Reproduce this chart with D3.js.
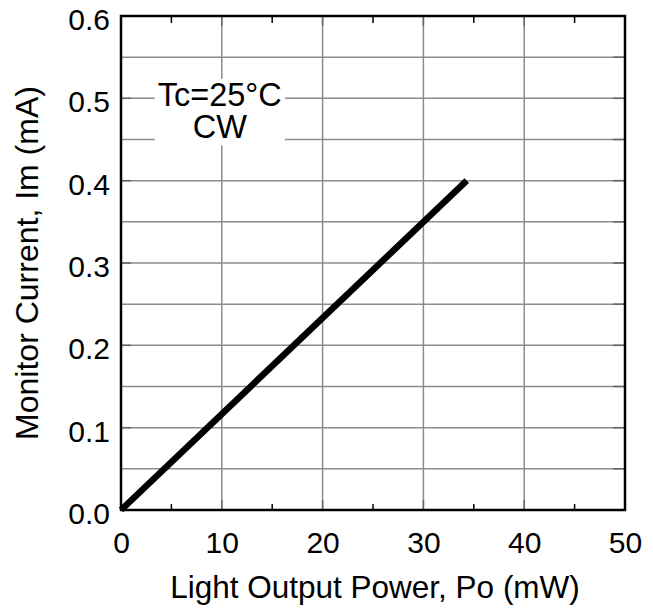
<!DOCTYPE html>
<html>
<head>
<meta charset="utf-8">
<script src="https://cdn.jsdelivr.net/npm/d3@7"></script>
<style>
  html, body { margin: 0; padding: 0; background: #fff; }
  svg { display: block; font-family: Arial, "Liberation Sans", Helvetica, sans-serif; }
</style>
</head>
<body>
<svg id="chart" width="653" height="609"></svg>
<script>
// Monitor current vs. light output power (Tc = 25 °C, CW)
const powerMW = [0, 34.3];
const monitorMA = [0, 0.4];

const xTicks = [0, 10, 20, 30, 40, 50];
const xMinorTicks = [5, 15, 25, 35, 45];
const yTicks = [0, 0.1, 0.2, 0.3, 0.4, 0.5, 0.6];
const yGrid = [0.05, 0.1, 0.15, 0.2, 0.25, 0.3, 0.35, 0.4, 0.45, 0.5, 0.55];
const xTitle = "Light Output Power, Po (mW)";
const yTitle = "Monitor Current, Im (mA)";
const noteLines = ["Tc=25°C", "CW"];

const W = 653, H = 609;
const m = { left: 121, top: 16, right: 28, bottom: 99 };
const pw = W - m.left - m.right, ph = H - m.top - m.bottom;

const svg = d3.select("#chart");
const g = svg.append("g").attr("transform", `translate(${m.left},${m.top})`);

const x = d3.scaleLinear().domain([0, 50]).range([0, pw]);
const y = d3.scaleLinear().domain([0, 0.6]).range([ph, 0]);

const gridColor = "#8c8c8c";
const tickColor = "#666";

// grid
g.append("g").selectAll("line.vg").data(xTicks.slice(1, -1)).join("line")
  .attr("x1", d => x(d)).attr("x2", d => x(d))
  .attr("y1", 0).attr("y2", ph)
  .attr("stroke", gridColor).attr("stroke-width", 1.5);
g.append("g").selectAll("line.hg").data(yGrid).join("line")
  .attr("x1", 0).attr("x2", pw)
  .attr("y1", d => y(d)).attr("y2", d => y(d))
  .attr("stroke", gridColor).attr("stroke-width", 1.5);

// inward ticks
const tk = g.append("g").attr("stroke", tickColor).attr("stroke-width", 1.5);
xTicks.slice(1, -1).forEach(d => {
  tk.append("line").attr("x1", x(d)).attr("x2", x(d)).attr("y1", ph).attr("y2", ph - 10);
  tk.append("line").attr("x1", x(d)).attr("x2", x(d)).attr("y1", 0).attr("y2", 10);
});
xMinorTicks.forEach(d => {
  tk.append("line").attr("x1", x(d)).attr("x2", x(d)).attr("y1", ph).attr("y2", ph - 6)
    .attr("stroke", "#000");
  tk.append("line").attr("x1", x(d)).attr("x2", x(d)).attr("y1", 0).attr("y2", 7)
    .attr("stroke", "#000");
});
yTicks.slice(1, -1).forEach(d => {
  tk.append("line").attr("x1", 0).attr("x2", 10).attr("y1", y(d)).attr("y2", y(d));
});
yGrid.forEach(d => {
  tk.append("line").attr("x1", pw - 12).attr("x2", pw).attr("y1", y(d)).attr("y2", y(d));
});

// annotation with white backing
const noteX = x(10) - 2;
const note = g.append("g");
const noteBg = note.append("rect").attr("fill", "#fff");
const noteText = note.append("text")
  .attr("text-anchor", "middle")
  .attr("font-size", 32.5)
  .attr("fill", "#000");
noteText.selectAll("tspan").data(noteLines).join("tspan")
  .attr("x", noteX)
  .attr("y", (d, i) => y(0.5) + 8 + i * 32)
  .text(d => d);
const bb = noteText.node().getBBox();
noteBg.attr("x", bb.x - 3).attr("y", bb.y + 1.5).attr("width", bb.width + 6).attr("height", bb.height - 1.5);

// data line
const line = d3.line().x(d => x(d[0])).y(d => y(d[1]));
g.append("path")
  .datum(powerMW.map((p, i) => [p, monitorMA[i]]))
  .attr("d", line)
  .attr("fill", "none")
  .attr("stroke", "#000")
  .attr("stroke-width", 6.5)
  .attr("stroke-linecap", "butt");

// frame
g.append("rect").attr("x", 0).attr("y", 0).attr("width", pw).attr("height", ph)
  .attr("fill", "none").attr("stroke", "#000").attr("stroke-width", 2.5);

// tick labels via axes
const xAxis = d3.axisBottom(x).tickValues(xTicks).tickSize(0).tickPadding(22)
  .tickFormat(d3.format("d"));
const xa = g.append("g").attr("transform", `translate(0,${ph})`).call(xAxis);
xa.select(".domain").remove();
xa.selectAll("text").attr("font-size", 30).attr("font-family", null).attr("fill", "#000").attr("dy", "0.71em");

const yAxis = d3.axisLeft(y).tickValues(yTicks).tickSize(0).tickPadding(11)
  .tickFormat(d3.format(".1f"));
const ya = g.append("g").call(yAxis);
ya.select(".domain").remove();
ya.selectAll("text").attr("font-size", 30).attr("font-family", null).attr("fill", "#000").attr("dy", "0.45em");

// axis titles
svg.append("text")
  .attr("x", 375).attr("y", 598)
  .attr("text-anchor", "middle").attr("font-size", 31.5).attr("fill", "#000")
  .text(xTitle);
svg.append("text")
  .attr("transform", `translate(38,263) rotate(-90)`)
  .attr("text-anchor", "middle").attr("font-size", 32).attr("fill", "#000")
  .text(yTitle);
</script>
</body>
</html>
